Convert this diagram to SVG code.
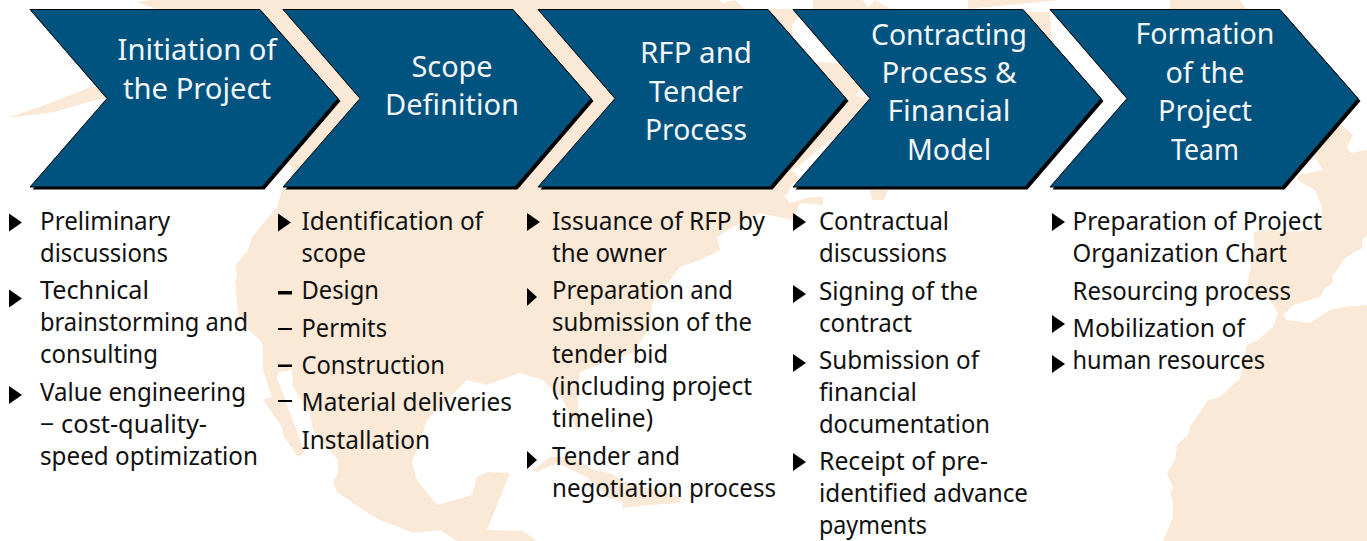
<svg xmlns="http://www.w3.org/2000/svg" xmlns:xlink="http://www.w3.org/1999/xlink" width="1367" height="541" viewBox="0 0 1367 541">
<style>
.map{fill:#f9e9d6;stroke:none}
.chev{fill:#01537f;stroke:#000;stroke-width:1}
.shadow{fill:#000}
.h{font-family:"Noto Sans","Open Sans","Liberation Sans",sans-serif;font-size:29px;fill:#f2f6f9;text-anchor:middle}
.t{font-family:"Noto Sans","Open Sans","Liberation Sans",sans-serif;font-size:24.5px;fill:#111}
.b{fill:#000}
</style>
<defs>
<polygon id="c" points="0,0 230,0 308,89 232,177.5 0,177.5 77,89"/>
<polygon id="tri" points="0,0 13,9 0,18"/>
</defs>
<rect width="1367" height="541" fill="#fff"/>
<g id="map">
<polygon class="map" points="7,118 45,105 93,86 110,90 105,98 95,100 55,112"/>
<polygon class="map" points="137,2 150,0 720,0 722,3 735,0 745,9 790,9 800,15 792,25 795,60 845,64 870,70 868,85 855,95 870,100 872,120 830,140 800,165 792,170 800,178 790,187 787,195 783,195 790,203 810,197 823,197 823,205 800,203 793,220 760,213 733,227 717,237 720,250 700,260 680,267 652,303 650,327 633,353 603,363 580,372 577,393 580,427 577,430 563,400 543,380 520,373 500,380 487,385 467,380 427,420 412,463 417,480 437,505 472,495 477,477 487,472 510,473 487,530 523,531 537,541 457,541 440,530 413,533 380,520 363,510 337,492 333,482 338,473 338,460 313,430 310,413 293,387 292,370 278,372 277,378 290,413 305,452 298,457 283,435 282,427 263,400 272,397 263,370 263,347 260,340 245,327 238,313 235,280 237,277 236,265 248,250 252,237 277,207 283,187 295,170 283,160 270,150 280,120 240,40"/>
<polygon class="map" points="533,470 550,457 573,457 593,470 610,473 630,485 660,490 680,497 680,503 647,505 623,508 622,502 607,497 587,477 557,463 537,472"/>
<polygon class="map" points="813,0 863,0 868,8 875,0 890,9 813,9"/>
<polygon class="map" points="968,9 1060,0 968,0"/>
<polygon class="map" points="1170,0 1240,0 1250,15 1230,15 1170,15"/>
<polygon class="map" points="1022,12 1050,12 1052,50 1035,45"/>
<polygon class="map" points="870,190 888,190 884,200 872,200"/>
<polygon class="map" points="1310,150 1342,125 1353,135 1347,147 1350,153 1367,150 1367,235 1362,240 1362,248 1345,258 1332,277 1333,283 1325,288 1320,297 1293,305 1283,315 1287,320 1310,323 1330,310 1343,307 1367,305 1367,541 1163,541 1173,517 1173,502 1170,492 1173,488 1167,473 1175,460 1177,445 1188,435 1190,427 1208,400 1220,397 1240,378 1247,345 1258,340 1273,327 1278,313 1270,300 1252,298 1248,282 1250,270 1255,243 1253,233 1263,230 1287,232 1320,230 1322,207 1315,190 1297,180 1298,175 1323,170 1320,165"/>
</g>
<g id="node-1"><use xlink:href="#c" class="shadow" transform="translate(32.5,12)"/><use xlink:href="#c" class="chev" transform="translate(30,9.5)"/>
<text class="h" x="197" y="60" textLength="159" lengthAdjust="spacingAndGlyphs">Initiation of</text>
<text class="h" x="197" y="99" textLength="148" lengthAdjust="spacingAndGlyphs">the Project</text></g>
<g id="node-2"><use xlink:href="#c" class="shadow" transform="translate(285.5,12)"/><use xlink:href="#c" class="chev" transform="translate(283,9.5)"/>
<text class="h" x="452" y="77" textLength="81" lengthAdjust="spacingAndGlyphs">Scope</text>
<text class="h" x="452" y="115" textLength="134" lengthAdjust="spacingAndGlyphs">Definition</text></g>
<g id="node-3"><use xlink:href="#c" class="shadow" transform="translate(540.5,12)"/><use xlink:href="#c" class="chev" transform="translate(538,9.5)"/>
<text class="h" x="696" y="63" textLength="112" lengthAdjust="spacingAndGlyphs">RFP and</text>
<text class="h" x="696" y="102" textLength="94" lengthAdjust="spacingAndGlyphs">Tender</text>
<text class="h" x="696" y="140" textLength="102" lengthAdjust="spacingAndGlyphs">Process</text></g>
<g id="node-4"><use xlink:href="#c" class="shadow" transform="translate(795.5,12)"/><use xlink:href="#c" class="chev" transform="translate(793,9.5)"/>
<text class="h" x="949" y="45" textLength="156" lengthAdjust="spacingAndGlyphs">Contracting</text>
<text class="h" x="949" y="83" textLength="135" lengthAdjust="spacingAndGlyphs">Process &amp;</text>
<text class="h" x="949" y="121" textLength="123" lengthAdjust="spacingAndGlyphs">Financial</text>
<text class="h" x="949" y="160" textLength="84" lengthAdjust="spacingAndGlyphs">Model</text></g>
<g id="node-5"><use xlink:href="#c" class="shadow" transform="translate(1052.5,12)"/><use xlink:href="#c" class="chev" transform="translate(1050,9.5)"/>
<text class="h" x="1205" y="44" textLength="139" lengthAdjust="spacingAndGlyphs">Formation</text>
<text class="h" x="1205" y="83" textLength="79" lengthAdjust="spacingAndGlyphs">of the</text>
<text class="h" x="1205" y="121" textLength="94" lengthAdjust="spacingAndGlyphs">Project</text>
<text class="h" x="1205" y="160" textLength="68" lengthAdjust="spacingAndGlyphs">Team</text></g>
<g id="list-1">
<use xlink:href="#tri" class="b" x="9" y="213.5"/><use xlink:href="#tri" class="b" x="9" y="289.5"/><use xlink:href="#tri" class="b" x="9" y="386"/>
<text class="t" x="40" y="230" textLength="130" lengthAdjust="spacingAndGlyphs">Preliminary</text>
<text class="t" x="40" y="262" textLength="128" lengthAdjust="spacingAndGlyphs">discussions</text>
<text class="t" x="40" y="299" textLength="109" lengthAdjust="spacingAndGlyphs">Technical</text>
<text class="t" x="40" y="331" textLength="208" lengthAdjust="spacingAndGlyphs">brainstorming and</text>
<text class="t" x="40" y="363" textLength="118" lengthAdjust="spacingAndGlyphs">consulting</text>
<text class="t" x="40" y="401" textLength="206" lengthAdjust="spacingAndGlyphs">Value engineering</text>
<text class="t" x="40" y="433" textLength="167" lengthAdjust="spacingAndGlyphs">− cost-quality-</text>
<text class="t" x="40" y="465" textLength="218" lengthAdjust="spacingAndGlyphs">speed optimization</text>
</g>
<g id="list-2">
<use xlink:href="#tri" class="b" x="278" y="213.5"/>
<rect class="b" x="278" y="291" width="14" height="3.5"/><rect class="b" x="278" y="328" width="14" height="2"/><rect class="b" x="278" y="364.5" width="14" height="2.5"/><rect class="b" x="278" y="400" width="14" height="2"/>
<text class="t" x="301.5" y="230" textLength="181.500" lengthAdjust="spacingAndGlyphs">Identification of</text>
<text class="t" x="301.5" y="262" textLength="64.500" lengthAdjust="spacingAndGlyphs">scope</text>
<text class="t" x="301.5" y="299" textLength="77.500" lengthAdjust="spacingAndGlyphs">Design</text>
<text class="t" x="301.5" y="337" textLength="85.500" lengthAdjust="spacingAndGlyphs">Permits</text>
<text class="t" x="301.5" y="374" textLength="143.500" lengthAdjust="spacingAndGlyphs">Construction</text>
<text class="t" x="301.5" y="411" textLength="210.500" lengthAdjust="spacingAndGlyphs">Material deliveries</text>
<text class="t" x="301.5" y="449" textLength="128.500" lengthAdjust="spacingAndGlyphs">Installation</text>
</g>
<g id="list-3">
<use xlink:href="#tri" class="b" x="527" y="213"/><polygon class="b" points="527,288 537,297 527,306"/><polygon class="b" points="527,451 537,460 527,469"/>
<text class="t" x="552" y="230" textLength="213" lengthAdjust="spacingAndGlyphs">Issuance of RFP by</text>
<text class="t" x="552" y="262" textLength="115" lengthAdjust="spacingAndGlyphs">the owner</text>
<text class="t" x="552" y="299" textLength="181" lengthAdjust="spacingAndGlyphs">Preparation and</text>
<text class="t" x="552" y="331" textLength="200" lengthAdjust="spacingAndGlyphs">submission of the</text>
<text class="t" x="552" y="363" textLength="116" lengthAdjust="spacingAndGlyphs">tender bid</text>
<text class="t" x="552" y="395" textLength="200" lengthAdjust="spacingAndGlyphs">(including project</text>
<text class="t" x="552" y="427" textLength="101" lengthAdjust="spacingAndGlyphs">timeline)</text>
<text class="t" x="552" y="465" textLength="128" lengthAdjust="spacingAndGlyphs">Tender and</text>
<text class="t" x="552" y="497" textLength="224" lengthAdjust="spacingAndGlyphs">negotiation process</text>
</g>
<g id="list-4">
<use xlink:href="#tri" class="b" x="793" y="213"/><use xlink:href="#tri" class="b" x="793" y="285"/><use xlink:href="#tri" class="b" x="793" y="354"/><use xlink:href="#tri" class="b" x="793" y="453"/>
<text class="t" x="819" y="230" textLength="130" lengthAdjust="spacingAndGlyphs">Contractual</text>
<text class="t" x="819" y="262" textLength="128" lengthAdjust="spacingAndGlyphs">discussions</text>
<text class="t" x="819" y="300" textLength="159" lengthAdjust="spacingAndGlyphs">Signing of the</text>
<text class="t" x="819" y="332" textLength="93" lengthAdjust="spacingAndGlyphs">contract</text>
<text class="t" x="819" y="369" textLength="160" lengthAdjust="spacingAndGlyphs">Submission of</text>
<text class="t" x="819" y="401" textLength="98" lengthAdjust="spacingAndGlyphs">financial</text>
<text class="t" x="819" y="433" textLength="171" lengthAdjust="spacingAndGlyphs">documentation</text>
<text class="t" x="819" y="470" textLength="169" lengthAdjust="spacingAndGlyphs">Receipt of pre-</text>
<text class="t" x="819" y="502" textLength="209" lengthAdjust="spacingAndGlyphs">identified advance</text>
<text class="t" x="819" y="534" textLength="108" lengthAdjust="spacingAndGlyphs">payments</text>
</g>
<g id="list-5">
<use xlink:href="#tri" class="b" x="1052" y="213"/><use xlink:href="#tri" class="b" x="1052" y="315"/><use xlink:href="#tri" class="b" x="1052" y="355"/>
<text class="t" x="1072.5" y="230" textLength="249.500" lengthAdjust="spacingAndGlyphs">Preparation of Project</text>
<text class="t" x="1072.5" y="262" textLength="214.500" lengthAdjust="spacingAndGlyphs">Organization Chart</text>
<text class="t" x="1072.5" y="300" textLength="218.500" lengthAdjust="spacingAndGlyphs">Resourcing process</text>
<text class="t" x="1072.5" y="337" textLength="172.500" lengthAdjust="spacingAndGlyphs">Mobilization of</text>
<text class="t" x="1072.5" y="369" textLength="192.500" lengthAdjust="spacingAndGlyphs">human resources</text>
</g>
</svg>
